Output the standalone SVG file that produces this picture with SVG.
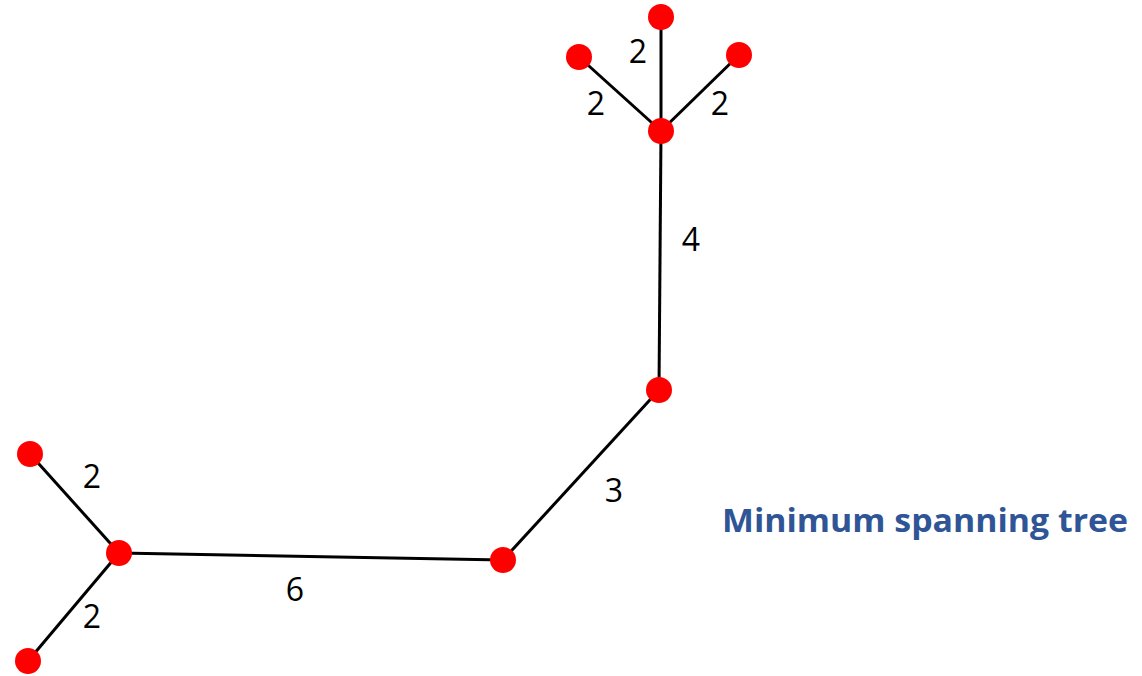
<svg xmlns="http://www.w3.org/2000/svg" width="1142" height="676" viewBox="0 0 1142 676">
<style>
.e{stroke:#000;stroke-width:3;fill:none}
.n{fill:#f00}
.l{font-family:"Open Sans","Liberation Sans",sans-serif;font-size:32px;fill:#000;text-anchor:middle}
.t{font-family:"Open Sans","Liberation Sans",sans-serif;font-size:33px;font-weight:bold;fill:#2f5597}
</style>
<rect width="1142" height="676" fill="#fff"/>
<g id="edges">
<line class="e" x1="661" y1="17" x2="661" y2="131"/>
<line class="e" x1="579" y1="57" x2="661" y2="131"/>
<line class="e" x1="739" y1="55" x2="661" y2="131"/>
<line class="e" x1="661" y1="131" x2="659" y2="390"/>
<line class="e" x1="659" y1="390" x2="503" y2="560"/>
<line class="e" x1="503" y1="560" x2="119" y2="553"/>
<line class="e" x1="30" y1="454" x2="119" y2="553"/>
<line class="e" x1="28" y1="661" x2="119" y2="553"/>
</g>
<g id="labels">
<text class="l" x="638" y="63">2</text>
<text class="l" x="596" y="115">2</text>
<text class="l" x="720" y="115">2</text>
<text class="l" x="691" y="251">4</text>
<text class="l" x="614" y="502">3</text>
<text class="l" x="295" y="601">6</text>
<text class="l" x="92" y="488">2</text>
<text class="l" x="92" y="628">2</text>
</g>
<g id="n1"><circle class="n" cx="661" cy="17" r="13"/></g>
<g id="n2"><circle class="n" cx="579" cy="57" r="13"/></g>
<g id="n3"><circle class="n" cx="739" cy="55" r="13"/></g>
<g id="n4"><circle class="n" cx="661" cy="131" r="13"/></g>
<g id="n5"><circle class="n" cx="659" cy="390" r="13"/></g>
<g id="n6"><circle class="n" cx="503" cy="560" r="13"/></g>
<g id="n7"><circle class="n" cx="119" cy="553" r="13"/></g>
<g id="n8"><circle class="n" cx="30" cy="454" r="13"/></g>
<g id="n9"><circle class="n" cx="28" cy="661" r="13"/></g>
<g id="title"><text class="t" x="722" y="532" textLength="406" lengthAdjust="spacingAndGlyphs">Minimum spanning tree</text></g>
</svg>
